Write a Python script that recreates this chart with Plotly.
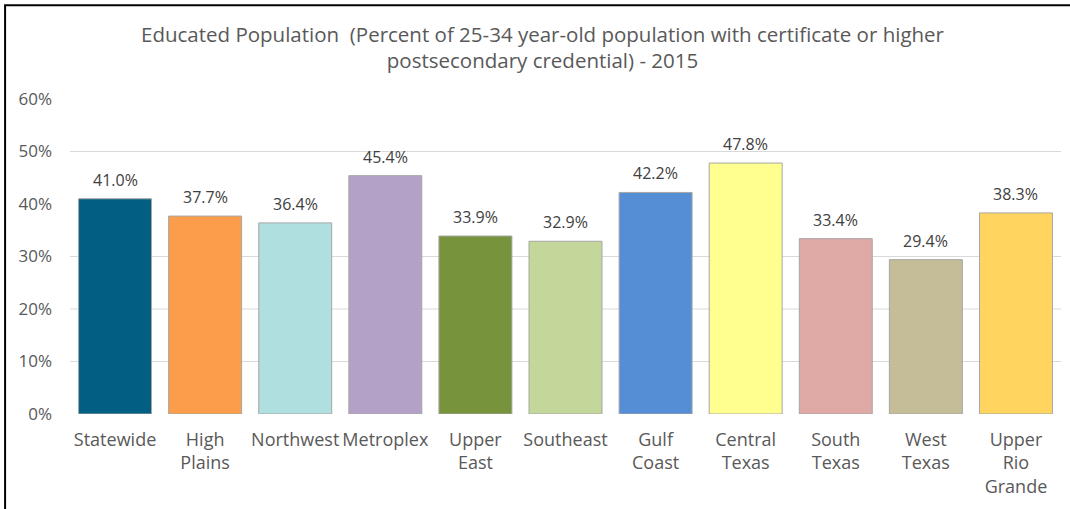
import plotly.graph_objs as go

regions = ['Statewide', 'High<br>Plains', 'Northwest', 'Metroplex', 'Upper<br>East',
           'Southeast', 'Gulf<br>Coast', 'Central<br>Texas', 'South<br>Texas',
           'West<br>Texas', 'Upper<br>Rio<br>Grande']
educated = [0.410, 0.377, 0.364, 0.454, 0.339, 0.329, 0.422, 0.478, 0.334, 0.294, 0.383]
bar_colors = ['#005f83', '#fb9d4b', '#b0dfdf', '#b3a1c8', '#77933c', '#c4d79b',
              '#558ed5', '#ffff8f', '#dfa9a6', '#c4bd97', '#ffd45f']
y_ticks = [0, 0.1, 0.2, 0.3, 0.4, 0.5, 0.6]
grid_levels = [0.1, 0.2, 0.3, 0.5]

font = 'Open Sans, Calibri, sans-serif'

trace = go.Bar(x=regions, y=educated,
               marker={'color': bar_colors, 'line': {'color': '#a6a6a6', 'width': 1}})

layout = go.Layout(
    width=1070, height=509,
    margin={'l': 70, 'r': 9, 't': 99, 'b': 95},
    paper_bgcolor='white', plot_bgcolor='white',
    bargap=0.19, showlegend=False,
    title={'text': 'Educated Population  (Percent of 25-34 year-old population with certificate or higher<br>postsecondary credential) - 2015',
           'x': 0.507, 'xanchor': 'center', 'y': 0.918, 'yanchor': 'top',
           'font': {'size': 20.5, 'color': '#595959', 'family': font}},
    xaxis={'tickfont': {'size': 18, 'color': '#595959', 'family': font},
           'showline': False, 'ticks': '', 'ticklabelstandoff': 13},
    yaxis={'range': [0, 0.6], 'tickvals': y_ticks, 'tickformat': '.0%',
           'showgrid': False, 'zeroline': False, 'ticklabelstandoff': 17,
           'tickfont': {'size': 17, 'color': '#595959', 'family': font}},
)

figure = go.Figure(data=[trace], layout=layout)

# data labels above the bars
for name, value in zip(regions, educated):
    figure.add_annotation(x=name, y=value, text='%.1f%%' % (value * 100),
                          showarrow=False, yanchor='bottom', yshift=6,
                          font={'size': 16, 'color': '#404040', 'family': font})

for level in grid_levels:
    figure.add_shape(type='line', xref='paper', yref='y', x0=0, x1=1, y0=level, y1=level,
                     line={'color': '#d9d9d9', 'width': 1}, layer='below')

# frame: left and top edges only
figure.add_shape(type='line', xref='paper', yref='paper', x0=-0.0655, x1=-0.0655,
                 y0=-0.31, y1=1.298, line={'color': 'black', 'width': 2})
figure.add_shape(type='line', xref='paper', yref='paper', x0=-0.0665, x1=1.01,
                 y0=1.298, y1=1.298, line={'color': 'black', 'width': 2})

figure.write_html('out.html', config={'displayModeBar': False},
                  post_script="document.body.style.margin='0';")
